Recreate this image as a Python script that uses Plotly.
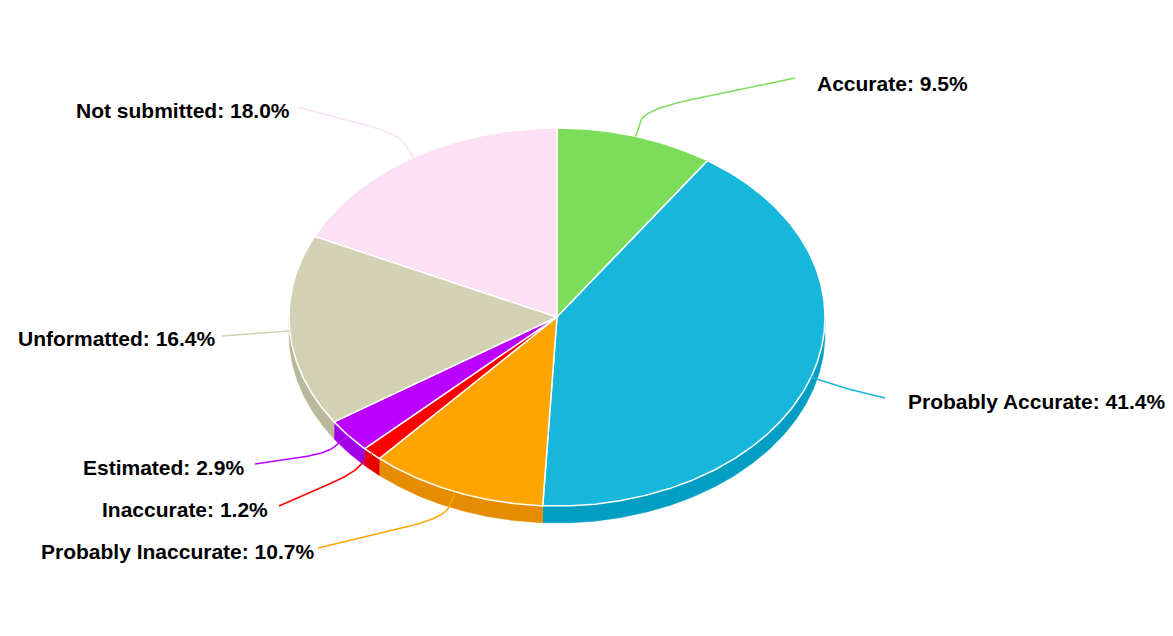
import numpy as np
import plotly.graph_objects as go

# ---------------- data ----------------
CATEGORIES = ["Accurate", "Probably Accurate", "Probably Inaccurate", "Inaccurate",
              "Estimated", "Unformatted", "Not submitted"]
PERCENTS = [9.5, 41.4, 10.7, 1.2, 2.9, 16.4, 18.0]

# ---------------- styles / layout ----------------
TOP_COLORS = ["#7CDD5B", "#16B7DB", "#FFA500", "#FF0000", "#BB00FF", "#D3D1B4", "#FDDFF6"]
SIDE_COLORS = ["#63C442", "#009EC2", "#E68C00", "#E60000", "#A200E6", "#BAB89B", "#E4C6DD"]

W, H = 1173, 636
PAGE_MARGIN = 8
CX, CY, RX, RY, DEPTH = 557, 317, 268, 189, 17
BREAK = 28  # connector break distance (px)
# label anchor (x, y, side)
LABEL_POS = [(815, 83, "left"), (906, 401, "left"), (316, 551, "right"),
             (270, 509, "right"), (246, 467, "right"), (218, 338, "right"),
             (292, 110, "right")]
CONNECTOR_END = [(795, 78), (885, 398), (318, 548), (279, 506), (255, 464),
                 (222, 336), (297, 107)]
FONT = "Liberation Sans, Arial, sans-serif"


def pt(theta, dx=0.0, dy=0.0, down=0.0):
    return (CX + (RX + dx) * np.sin(theta), CY - (RY + dy) * np.cos(theta) + down)


fig = go.Figure()

total = sum(PERCENTS)
fracs = np.array(PERCENTS) / total
ends = np.cumsum(fracs) * 2 * np.pi
starts = ends - fracs * 2 * np.pi

# side walls (front half only)
for i in range(len(CATEGORIES)):
    a = max(starts[i], np.pi / 2)
    b = min(ends[i], 3 * np.pi / 2)
    if b <= a:
        continue
    n = max(4, int(np.degrees(b - a) * 2))
    th = np.linspace(a, b, n)
    xs_top = CX + RX * np.sin(th)
    ys_top = CY - RY * np.cos(th)
    xs = np.concatenate([xs_top, xs_top[::-1], xs_top[:1]])
    ys = np.concatenate([ys_top, ys_top[::-1] + DEPTH, ys_top[:1]])
    fig.add_trace(go.Scatter(x=xs, y=ys, mode="lines", fill="toself",
                             fillcolor=SIDE_COLORS[i],
                             line=dict(color=SIDE_COLORS[i], width=0.5),
                             hoverinfo="skip", showlegend=False))

# top faces
for i in range(len(CATEGORIES)):
    n = max(4, int(np.degrees(ends[i] - starts[i]) * 2))
    th = np.linspace(starts[i], ends[i], n)
    xs = np.concatenate([[CX], CX + RX * np.sin(th), [CX]])
    ys = np.concatenate([[CY], CY - RY * np.cos(th), [CY]])
    fig.add_trace(go.Scatter(x=xs, y=ys, mode="lines", fill="toself",
                             fillcolor=TOP_COLORS[i],
                             line=dict(color="white", width=1.5),
                             name=CATEGORIES[i],
                             hovertemplate=f"{CATEGORIES[i]}: {PERCENTS[i]:.1f}%<extra></extra>",
                             showlegend=False))

# connectors
for i in range(len(CATEGORIES)):
    mid = (starts[i] + ends[i]) / 2
    p0 = np.array(pt(mid))
    p1 = np.array(pt(mid, BREAK, BREAK))
    p2 = np.array(CONNECTOR_END[i])
    a = p0 + 0.55 * (p1 - p0)
    b = p1 + 0.3 * (p2 - p1)
    t = np.linspace(0, 1, 20)[:, None]
    curve = (1 - t) ** 2 * a + 2 * (1 - t) * t * p1 + t ** 2 * b
    pts = np.vstack([p0, curve, p2])
    fig.add_trace(go.Scatter(x=pts[:, 0], y=pts[:, 1], mode="lines",
                             line=dict(color=TOP_COLORS[i], width=1.5),
                             hoverinfo="skip", showlegend=False))

# labels
for i in range(len(CATEGORIES)):
    x, y, side = LABEL_POS[i]
    fig.add_annotation(x=x, y=y, xref="x", yref="y", showarrow=False,
                       text=f"<b>{CATEGORIES[i]}: {PERCENTS[i]:.1f}%</b>",
                       xanchor=side, yanchor="middle",
                       font=dict(family=FONT, size=21, color="black"))

M = PAGE_MARGIN
fig.update_layout(
    width=W - 2 * M, height=H - 2 * M,
    margin=dict(l=0, r=0, t=0, b=0),
    paper_bgcolor="white", plot_bgcolor="white",
    xaxis=dict(range=[M, W - M], visible=False, fixedrange=True),
    yaxis=dict(range=[H - M, M], visible=False, fixedrange=True),
    showlegend=False,
)

fig.write_html("out.html")
